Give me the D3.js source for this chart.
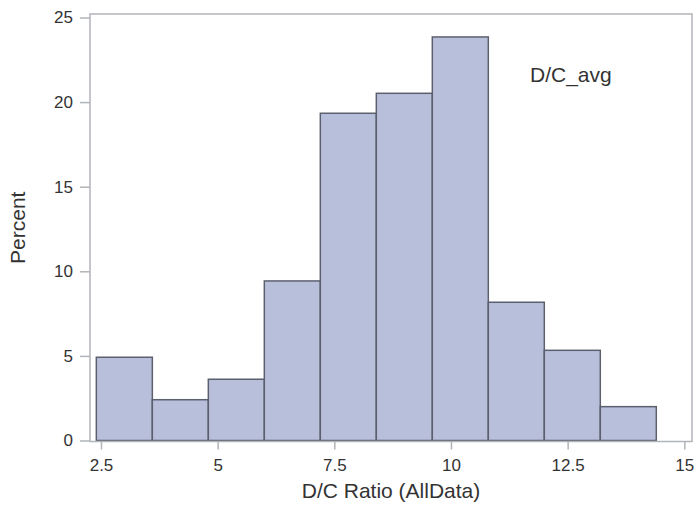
<!DOCTYPE html>
<html>
<head>
<meta charset="utf-8">
<script src="https://cdn.jsdelivr.net/npm/d3@7"></script>
<style>
  body { margin: 0; background: #fff; }
  text { font-family: "Liberation Sans", Arial, sans-serif; fill: #333; }
</style>
</head>
<body>
<div id="chart"></div>
<script>
// Histogram data: bin edges and percent per bin
var binStarts = [2.4, 3.6, 4.8, 6.0, 7.2, 8.4, 9.6, 10.8, 12.0, 13.2];
var binWidth = 1.2;
var percents = [4.92, 2.41, 3.62, 9.43, 19.34, 20.52, 23.85, 8.17, 5.33, 2.0];
var xTicks = [2.5, 5, 7.5, 10, 12.5, 15];
var yTicks = [0, 5, 10, 15, 20, 25];

var svgWidth = 696;
var svgHeight = 514;

// frame of the plot area
var frame = { left: 90, right: 692, top: 14, bottom: 441.5 };

var svg = d3.select("#chart")
  .append("svg")
  .attr("width", svgWidth)
  .attr("height", svgHeight);

var xScale = d3.scaleLinear()
  .domain([2.5, 15])
  .range([101, 684.3]);

var yScale = d3.scaleLinear()
  .domain([0, 25])
  .range([440.5, 17.5]);

// bars
svg.selectAll(".bar")
  .data(percents)
  .enter()
  .append("rect")
  .attr("class", "bar")
  .attr("x", (d, i) => xScale(binStarts[i]))
  .attr("y", d => yScale(d))
  .attr("width", (d, i) => xScale(binStarts[i] + binWidth) - xScale(binStarts[i]))
  .attr("height", d => yScale(0) - yScale(d))
  .attr("fill", "#b8bfdb")
  .attr("stroke", "#5c606e")
  .attr("stroke-width", 1.5);

// frame
svg.append("rect")
  .attr("x", frame.left)
  .attr("y", frame.top)
  .attr("width", frame.right - frame.left)
  .attr("height", frame.bottom - frame.top)
  .attr("fill", "none")
  .attr("stroke", "#b1b4b8")
  .attr("stroke-width", 1.5);

// axes
var leftAxis = d3.axisLeft(yScale)
  .tickValues(yTicks)
  .tickSize(10)
  .tickPadding(7)
  .tickFormat(d3.format("d"));

var bottomAxis = d3.axisBottom(xScale)
  .tickValues(xTicks)
  .tickSize(8)
  .tickPadding(9)
  .tickFormat(d => d);

var yAxisG = svg.append("g")
  .attr("transform", `translate(${frame.left}, 0)`)
  .call(leftAxis);

var xAxisG = svg.append("g")
  .attr("transform", `translate(0, ${frame.bottom})`)
  .call(bottomAxis);

[yAxisG, xAxisG].forEach(function(g) {
  g.select(".domain").remove();
  g.selectAll(".tick line").attr("stroke", "#b1b4b8").attr("stroke-width", 1.5);
  g.selectAll(".tick text")
    .style("font-size", "17px")
    .style("font-family", "'Liberation Sans', Arial, sans-serif")
    .attr("fill", "#333");
});

// axis labels
svg.append("text")
  .attr("transform", `translate(25, ${(frame.top + frame.bottom) / 2}) rotate(-90)`)
  .style("text-anchor", "middle")
  .style("font-size", "21px")
  .text("Percent");

svg.append("text")
  .attr("x", 391)
  .attr("y", 498)
  .style("text-anchor", "middle")
  .style("font-size", "21px")
  .text("D/C Ratio (AllData)");

// inset label
svg.append("text")
  .attr("x", 530)
  .attr("y", 82)
  .style("font-size", "21px")
  .text("D/C_avg");
</script>
</body>
</html>
